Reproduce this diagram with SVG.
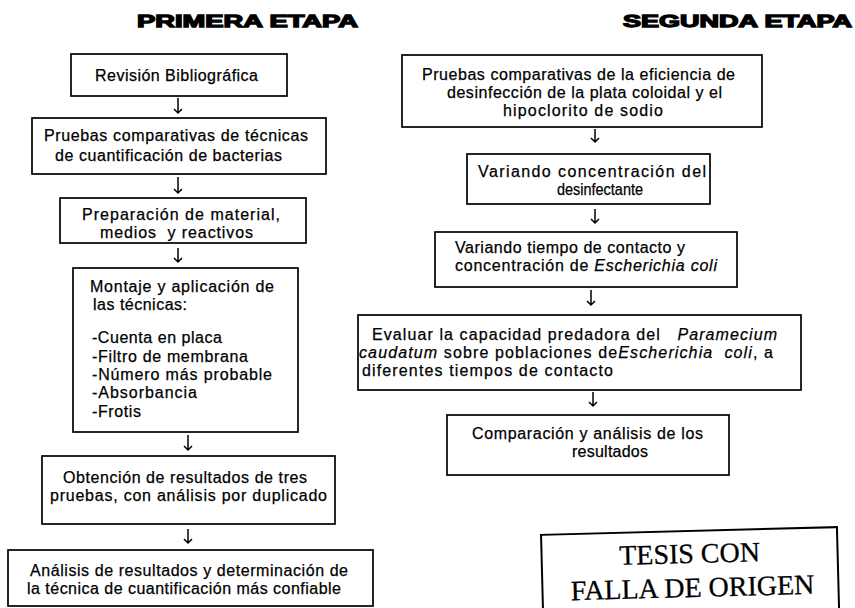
<svg xmlns="http://www.w3.org/2000/svg" width="855" height="608" viewBox="0 0 855 608">
<style>
.box{fill:#fff;stroke:#000;stroke-width:1.7}
.t{font-family:"Liberation Sans",Arial,sans-serif;font-size:16px;fill:#000;stroke:#000;stroke-width:0.25}
.h{font-family:"Liberation Sans",Arial,sans-serif;font-size:17px;font-weight:bold;fill:#000;stroke:#000;stroke-width:1.3}
.i{font-style:italic}
.arr{fill:none;stroke:#000;stroke-width:1.5}
.stamp{font-family:"Liberation Serif","Times New Roman",serif;font-size:28px;fill:#000;stroke:#000;stroke-width:0.3}
</style>
<rect width="855" height="608" fill="#fff"/>
<text class="h" x="137" y="27" textLength="221" lengthAdjust="spacingAndGlyphs">PRIMERA ETAPA</text>
<text class="h" x="623" y="27" textLength="229" lengthAdjust="spacingAndGlyphs">SEGUNDA ETAPA</text>

<g id="connectors">
<path class="arr" d="M178 98V113M174 109L178 113L182 109"/>
<path class="arr" d="M178 177V193M174 189L178 193L182 189"/>
<path class="arr" d="M178 248V262M174 258L178 262L182 258"/>
<path class="arr" d="M188 435V450M184 446L188 450L192 446"/>
<path class="arr" d="M188 529V543M184 539L188 543L192 539"/>
<path class="arr" d="M595 129V142M591 138L595 142L599 138"/>
<path class="arr" d="M595 209V223M591 219L595 223L599 219"/>
<path class="arr" d="M591 290V305M587 301L591 305L595 301"/>
<path class="arr" d="M593 392V406M589 402L593 406L597 402"/>
</g>

<g id="n1"><rect class="box" x="71" y="54" width="216" height="42"/>
<text class="t" x="95" y="81" textLength="163">Revisión Bibliográfica</text></g>

<g id="n2"><rect class="box" x="32" y="118" width="294" height="56"/>
<text class="t" x="44" y="141" textLength="264">Pruebas comparativas de técnicas</text>
<text class="t" x="55" y="161" textLength="227">de cuantificación de bacterias</text></g>

<g id="n3"><rect class="box" x="60" y="198" width="246" height="45"/>
<text class="t" x="82" y="220" textLength="198">Preparación de material,</text>
<text class="t" x="100" y="238" textLength="153" xml:space="preserve">medios  y reactivos</text></g>

<g id="n4"><rect class="box" x="73" y="268" width="225" height="164"/>
<text class="t" x="90" y="292" textLength="184">Montaje y aplicación de</text>
<text class="t" x="93" y="310" textLength="94">las técnicas:</text>
<text class="t" x="92" y="343" textLength="130">-Cuenta en placa</text>
<text class="t" x="92" y="362" textLength="156">-Filtro de membrana</text>
<text class="t" x="92" y="380" textLength="180">-Número más probable</text>
<text class="t" x="92" y="398" textLength="105">-Absorbancia</text>
<text class="t" x="92" y="417" textLength="49">-Frotis</text></g>

<g id="n5"><rect class="box" x="42" y="456" width="293" height="68"/>
<text class="t" x="63" y="483" textLength="244">Obtención de resultados de tres</text>
<text class="t" x="50" y="501" textLength="277">pruebas, con análisis por duplicado</text></g>

<g id="n6"><rect class="box" x="8" y="550" width="365" height="56"/>
<text class="t" x="30" y="576" textLength="318">Análisis de resultados y determinación de</text>
<text class="t" x="27" y="594" textLength="314">la técnica de cuantificación más confiable</text></g>

<g id="r1"><rect class="box" x="402" y="55" width="360" height="72"/>
<text class="t" x="422" y="80" textLength="313">Pruebas comparativas de la eficiencia de</text>
<text class="t" x="447" y="98" textLength="275">desinfección de la plata coloidal y el</text>
<text class="t" x="503" y="116" textLength="160">hipoclorito de sodio</text></g>

<g id="r2"><rect class="box" x="467" y="154" width="243" height="50"/>
<text class="t" x="478" y="177" textLength="228">Variando concentración del</text>
<text class="t" x="557" y="195" textLength="86" lengthAdjust="spacingAndGlyphs">desinfectante</text></g>

<g id="r3"><rect class="box" x="435" y="232" width="302" height="55"/>
<text class="t" x="455" y="253" textLength="230">Variando tiempo de contacto y</text>
<text class="t" x="455" y="271" textLength="262">concentración de <tspan class="i">Escherichia coli</tspan></text></g>

<g id="r4"><rect class="box" x="358" y="315" width="443" height="75"/>
<text class="t" x="372" y="340" textLength="405" xml:space="preserve">Evaluar la capacidad predadora del   <tspan class="i">Paramecium</tspan></text>
<text class="t" x="359" y="358" textLength="414" xml:space="preserve"><tspan class="i">caudatum</tspan> sobre poblaciones de<tspan class="i">Escherichia  coli</tspan>, a</text>
<text class="t" x="362" y="376" textLength="251">diferentes tiempos de contacto</text></g>

<g id="r5"><rect class="box" x="447" y="415" width="282" height="60"/>
<text class="t" x="472" y="439" textLength="231">Comparación y análisis de los</text>
<text class="t" x="572" y="457" textLength="76">resultados</text></g>

<g id="stamp" transform="rotate(-1.5 690 570)">
<rect x="542" y="531" width="296" height="82" fill="#fff" stroke="#000" stroke-width="2"/>
<text class="stamp" x="690" y="563" text-anchor="middle">TESIS CON</text>
<text class="stamp" x="692" y="597" text-anchor="middle">FALLA DE ORIGEN</text>
</g>
</svg>
